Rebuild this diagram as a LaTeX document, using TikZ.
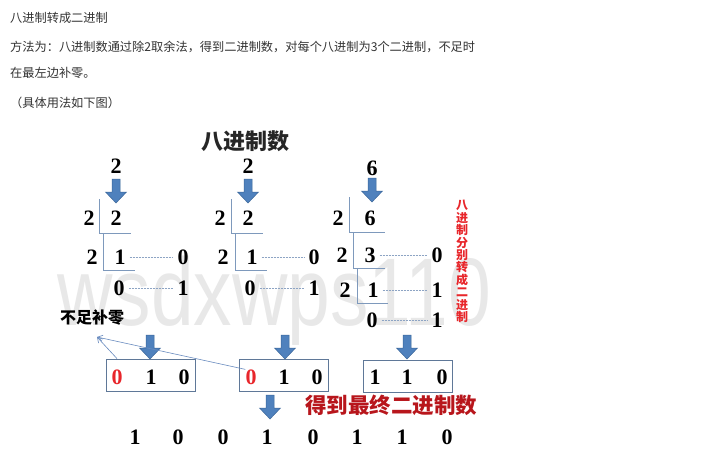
\documentclass[tikz,border=0pt]{standalone}
\usepackage{fontspec}
\setmainfont{Liberation Serif}
\newfontfamily\cjk{Noto Sans CJK SC}
\newfontfamily\wmfont{Liberation Sans}
\usetikzlibrary{arrows.meta}
\definecolor{arrblue}{HTML}{4F81BD}
\definecolor{arredge}{HTML}{3B679A}
\definecolor{lineblue}{HTML}{7E99BC}
\definecolor{dashblue}{HTML}{8DA4C4}
\definecolor{boxline}{HTML}{5F7898}
\definecolor{redA}{HTML}{E8262B}
\definecolor{redB}{HTML}{B8161C}
\definecolor{txtgray}{HTML}{333333}
\definecolor{wmgray}{HTML}{E8E8E8}
\definecolor{thinblue}{HTML}{6A8CC0}
\tikzset{
 dig/.style={inner sep=0pt, font=\bfseries\fontsize{22}{24}\selectfont},
 redd/.style={dig, text=redA},
 hdr/.style={anchor=west, inner sep=0pt, text=txtgray, font=\cjk\fontsize{12.2}{14}\selectfont},
 divline/.style={draw=lineblue, line width=0.8pt},
 dashline/.style={draw=dashblue, line width=0.7pt, dash pattern=on 1.8pt off 1.2pt, shorten >=4pt, shorten <=4pt},
 boxnode/.style={draw=boxline, line width=0.8pt, minimum width=89pt, minimum height=32pt, inner sep=0pt},
 thinarr/.style={draw=thinblue, line width=0.6pt, -{Straight Barb[length=5pt,width=6pt]}},
 pics/fatarrow/.style={code={
   \draw[fill=arrblue, draw=arredge, line width=0.5pt] (-4,0) -- (4,0) -- (4,13) -- (10.5,13) -- (0,24) -- (-10.5,13) -- (-4,13) -- cycle;}}
}
\begin{document}
\begin{tikzpicture}[x=1pt,y=-1pt]
\useasboundingbox[fill=white] (0,0) rectangle (704,468);
% watermark
\node[anchor=base west, inner sep=0pt, text=wmgray, font=\wmfont\fontsize{96}{96}\selectfont] (wm) at (57,325) {\scalebox{0.8}[1]{wsdxwps110}};
% header text
\node[hdr] (h1) at (10,18) {八进制转成二进制};
\node[hdr] (h2) at (10,47) {方法为：八进制数通过除2取余法，得到二进制数，对每个八进制为3个二进制，不足时};
\node[hdr] (h3) at (10,73) {在最左边补零。};
\node[hdr] (h4) at (10,103) {（具体用法如下图）};
% title
\node[inner sep=0pt, font=\cjk\bfseries\fontsize{22}{24}\selectfont, text=black!85] (title) at (245,141) {八进制数};
% column 1
\node[dig] (a0) at (116,166) {2};
\pic at (116,179) {fatarrow};
\node[dig] (a1d) at (89,218) {2};
\node[dig] (a1q) at (116,218) {2};
\draw[divline] (99,199) -- (99,233) -- (131,233);
\node[dig] (a2d) at (92,257) {2};
\node[dig] (a2q) at (120,257) {1};
\node[dig] (a2r) at (183,257) {0};
\draw[divline] (103,233) -- (103,270) -- (135,270);
\node[dig] (a3q) at (119,288) {0};
\node[dig] (a3r) at (183,288) {1};
\draw[dashline] (a2q) -- (a2r);
\draw[dashline] (a3q) -- (a3r);
% column 2
\node[dig] (b0) at (248,166) {2};
\pic at (248,179) {fatarrow};
\node[dig] (b1d) at (220,218) {2};
\node[dig] (b1q) at (248,218) {2};
\draw[divline] (231,199) -- (231,233) -- (263,233);
\node[dig] (b2d) at (223,257) {2};
\node[dig] (b2q) at (252,257) {1};
\node[dig] (b2r) at (314,257) {0};
\draw[divline] (235,233) -- (235,270) -- (267,270);
\node[dig] (b3q) at (250,288) {0};
\node[dig] (b3r) at (314,288) {1};
\draw[dashline] (b2q) -- (b2r);
\draw[dashline] (b3q) -- (b3r);
% column 3
\node[dig] (c0) at (372,168) {6};
\pic at (372,178) {fatarrow};
\node[dig] (c1d) at (338,218) {2};
\node[dig] (c1q) at (370,218) {6};
\draw[divline] (349,197) -- (349,232) -- (385,232);
\node[dig] (c2d) at (342,255) {2};
\node[dig] (c2q) at (370,255) {3};
\node[dig] (c2r) at (437,255) {0};
\draw[divline] (353,232) -- (353,268) -- (385,268);
\node[dig] (c3d) at (345,290) {2};
\node[dig] (c3q) at (373,290) {1};
\node[dig] (c3r) at (437,290) {1};
\draw[divline] (357,268) -- (357,303) -- (388,303);
\node[dig] (c4q) at (372,320) {0};
\node[dig] (c4r) at (437,320) {1};
\draw[dashline] (c2q) -- (c2r);
\draw[dashline] (c3q) -- (c3r);
\draw[dashline] (c4q) -- (c4r);
% vertical red text
\node[text=redA, font=\cjk\bfseries\fontsize{12}{12.4}\selectfont, align=center, inner sep=0pt] (vt) at (462,261.5) {八\\进\\制\\分\\别\\转\\成\\二\\进\\制};
% padding note
\node[inner sep=0pt, font=\cjk\bfseries\fontsize{16}{18}\selectfont] (pad) at (92,318) {不足补零};
\coordinate (zp) at (97,337);
% boxes
\pic at (150,335) {fatarrow};
\pic at (285,335) {fatarrow};
\pic at (407,335) {fatarrow};
\node[boxnode] (box1) at (150.5,375) {};
\node[boxnode] (box2) at (283.5,375) {};
\node[boxnode] (box3) at (408,376) {};
\node[redd] (x1) at (117,377) {0};
\node[dig] (x2) at (151,377) {1};
\node[dig] (x3) at (184,377) {0};
\node[redd] (y1) at (251,377) {0};
\node[dig] (y2) at (284,377) {1};
\node[dig] (y3) at (317,377) {0};
\node[dig] (z1) at (375,377) {1};
\node[dig] (z2) at (407,377) {1};
\node[dig] (z3) at (442,377) {0};
\draw[thinarr] (x1.north |- box1.north) -- (zp);
\draw[thinarr] (y1.north west) -- (zp);
% result
\pic at (270,395) {fatarrow};
\node[inner sep=0pt, text=redB, font=\cjk\bfseries\fontsize{21.5}{24}\selectfont] (res) at (391,405) {得到最终二进制数};
\node[dig] (f1) at (135,437) {1};
\node[dig] (f2) at (178,437) {0};
\node[dig] (f3) at (223,437) {0};
\node[dig] (f4) at (267,437) {1};
\node[dig] (f5) at (313,437) {0};
\node[dig] (f6) at (357,437) {1};
\node[dig] (f7) at (402,437) {1};
\node[dig] (f8) at (447,437) {0};
\end{tikzpicture}
\end{document}
